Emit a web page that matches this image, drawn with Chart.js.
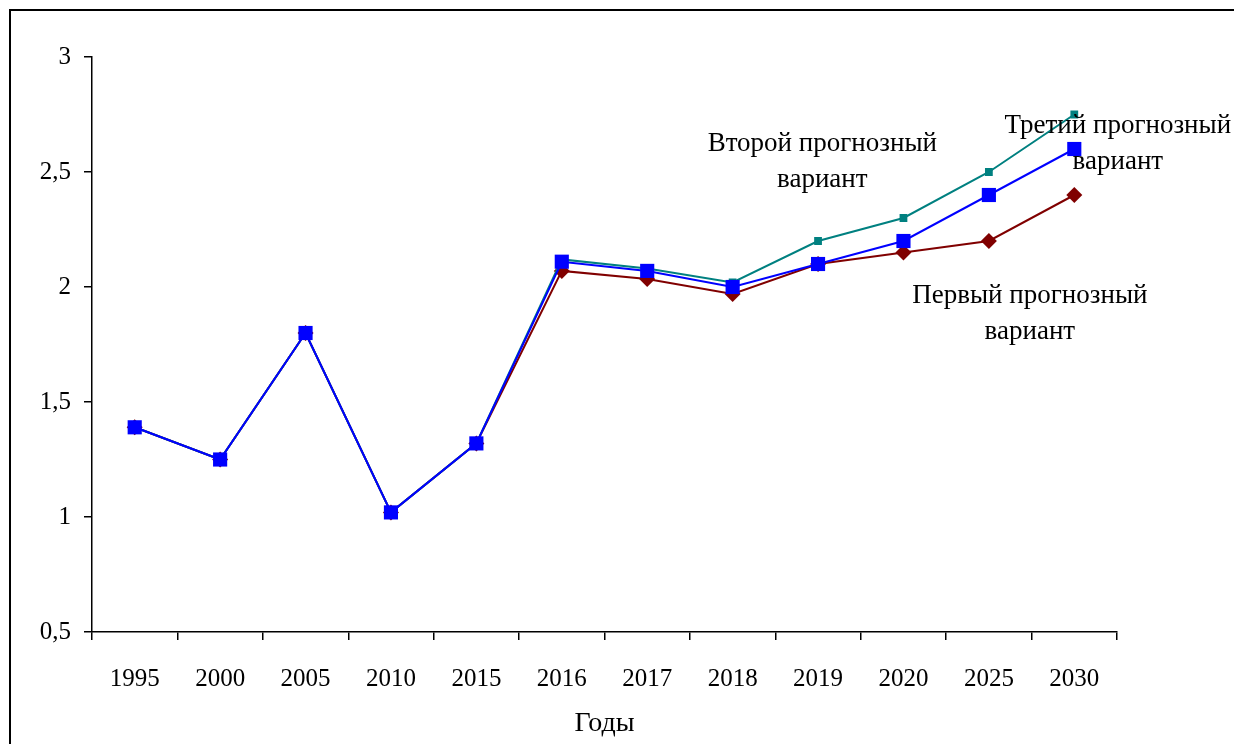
<!DOCTYPE html>
<html>
<head>
<meta charset="utf-8">
<script src="https://cdn.jsdelivr.net/npm/chart.js@4.4.0/dist/chart.umd.min.js"></script>
<style>
  html, body { margin: 0; padding: 0; background: #fff; }
  #wrap { position: relative; width: 1234px; height: 744px; }
  #frame { position: absolute; left: 9px; top: 9px; right: -5px; bottom: -5px; border: 2px solid #000; pointer-events: none; }
</style>
</head>
<body>
<div id="wrap">
  <canvas id="grafico" width="1234" height="744"></canvas>
  <div id="frame"></div>
</div>
<script>
// Годы (категории)
const anos = ["1995", "2000", "2005", "2010", "2015", "2016", "2017", "2018", "2019", "2020", "2025", "2030"];

// Варианты прогноза
const variante1 = [1.39, 1.25, 1.80, 1.02, 1.32, 2.07, 2.035, 1.97, 2.10, 2.15, 2.20, 2.40];
const variante2 = [1.39, 1.25, 1.80, 1.02, 1.32, 2.12, 2.08, 2.02, 2.20, 2.30, 2.50, 2.75];
const variante3 = [1.39, 1.25, 1.80, 1.02, 1.32, 2.11, 2.07, 2.00, 2.10, 2.20, 2.40, 2.60];

// Подписи: индекс категории, значение, строки
const etiquetas = [
  { x: 8.05, y: 2.62, lineas: ["Второй прогнозный", "вариант"] },
  { x: 11.51, y: 2.70, lineas: ["Третий прогнозный", "вариант"] },
  { x: 10.48, y: 1.96, lineas: ["Первый прогнозный", "вариант"] }
];

const fuente = "'Liberation Serif', 'Times New Roman', serif";

// Плагин для подписей вариантов
const pluginEtiquetas = {
  id: "etiquetas",
  afterDatasetsDraw(chart) {
    const c = chart.ctx;
    const sx = chart.scales.x, sy = chart.scales.y;
    c.save();
    c.font = "27px " + fuente;
    c.fillStyle = "#000";
    c.textAlign = "center";
    c.textBaseline = "middle";
    etiquetas.forEach(e => {
      const px = sx.getPixelForValue(0) + e.x * (sx.getPixelForValue(1) - sx.getPixelForValue(0));
      const py = sy.getPixelForValue(e.y);
      e.lineas.forEach((t, i) => c.fillText(t, px, py + i * 36));
    });
    c.restore();
  }
};

new Chart(document.getElementById("grafico").getContext("2d"), {
  type: "line",
  data: {
    labels: anos,
    datasets: [
      {
        label: "Третий прогнозный вариант",
        data: variante3,
        borderColor: "#0000FF",
        backgroundColor: "#0000FF",
        borderWidth: 2,
        pointStyle: "rect",
        pointRadius: 10,
        pointBorderWidth: 0,
        tension: 0,
        order: 1
      },
      {
        label: "Второй прогнозный вариант",
        data: variante2,
        borderColor: "#008080",
        backgroundColor: "#008080",
        borderWidth: 2,
        pointStyle: "rect",
        pointRadius: 5.5,
        pointBorderWidth: 0,
        tension: 0,
        order: 2
      },
      {
        label: "Первый прогнозный вариант",
        data: variante1,
        borderColor: "#800000",
        backgroundColor: "#800000",
        borderWidth: 2,
        pointStyle: "rectRot",
        pointRadius: 8,
        pointBorderWidth: 0,
        tension: 0,
        order: 3
      }
    ]
  },
  options: {
    responsive: false,
    animation: false,
    layout: { padding: { top: 57, right: 117, left: 0, bottom: 0 } },
    plugins: {
      legend: { display: false },
      tooltip: { enabled: false }
    },
    scales: {
      x: {
        offset: true,
        grid: { offset: true, drawOnChartArea: false, tickLength: 8, color: "#000", lineWidth: 1.5 },
        border: { color: "#000", width: 1.5 },
        ticks: { color: "#000", font: { family: fuente, size: 25 }, padding: 24, maxRotation: 0 },
        title: { display: true, text: "Годы", color: "#000", font: { family: fuente, size: 28 }, padding: { top: 0, bottom: 4 } },
        afterFit(s) { s.height = 112; }
      },
      y: {
        min: 0.5,
        max: 3,
        grid: { drawOnChartArea: false, tickLength: 8, color: "#000", lineWidth: 1.5 },
        border: { color: "#000", width: 1.5 },
        ticks: {
          stepSize: 0.5,
          color: "#000",
          font: { family: fuente, size: 25 },
          padding: 13,
          callback: v => String(v).replace(".", ",")
        },
        afterFit(s) { s.width = 92; }
      }
    }
  },
  plugins: [pluginEtiquetas]
});
</script>
</body>
</html>
